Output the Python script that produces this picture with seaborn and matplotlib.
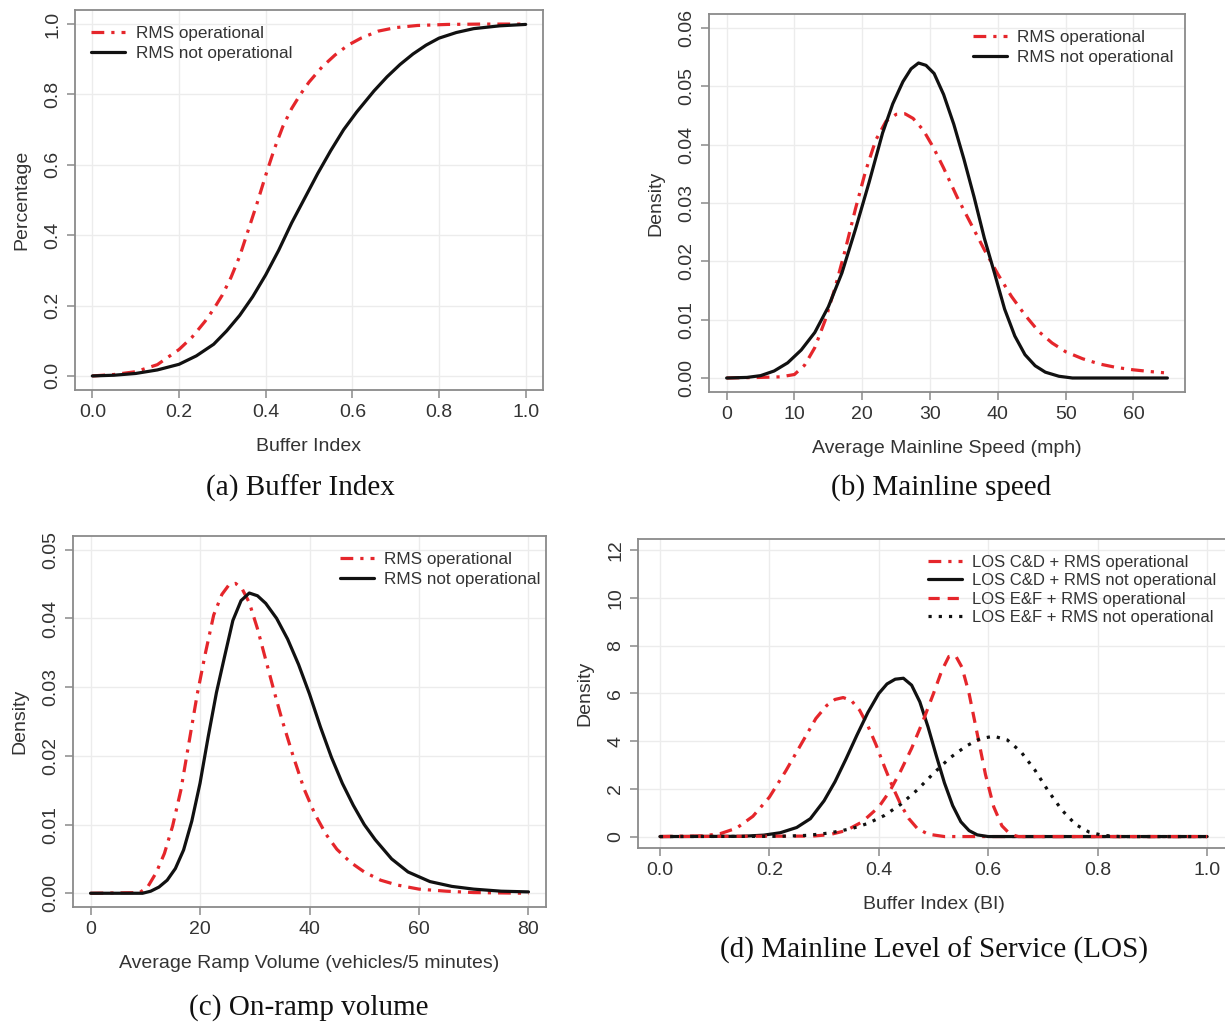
import matplotlib
matplotlib.use("Agg")
import matplotlib.pyplot as plt
import seaborn as sns

# ---------------- data ----------------
# (a) Buffer Index CDF
a_red_x = [0, 0.05, 0.10, 0.15, 0.20, 0.23, 0.26, 0.28, 0.30, 0.32, 0.34, 0.36, 0.38, 0.40,
           0.42, 0.44, 0.46, 0.48, 0.50, 0.53, 0.56, 0.59, 0.62, 0.66, 0.70, 0.75, 0.82,
           0.90, 1.0]
a_red_y = [0, 0.004, 0.012, 0.032, 0.075, 0.11, 0.155, 0.19, 0.23, 0.28, 0.34, 0.415, 0.49,
           0.57, 0.645, 0.71, 0.76, 0.80, 0.835, 0.878, 0.912, 0.94, 0.96, 0.98, 0.99,
           0.996, 0.999, 1.0, 1.0]
a_blk_x = [0, 0.05, 0.10, 0.15, 0.20, 0.24, 0.28, 0.31, 0.34, 0.37, 0.40, 0.43, 0.46, 0.49,
           0.52, 0.55, 0.58, 0.61, 0.65, 0.68, 0.71, 0.74, 0.77, 0.80, 0.84, 0.88, 0.94, 1.0]
a_blk_y = [0, 0.002, 0.007, 0.017, 0.033, 0.057, 0.09, 0.128, 0.172, 0.225, 0.287, 0.357,
           0.435, 0.505, 0.575, 0.64, 0.70, 0.75, 0.81, 0.85, 0.885, 0.915, 0.94, 0.96,
           0.976, 0.987, 0.995, 0.999]

# (b) Mainline speed densities
b_blk_x = [0, 3, 5, 7, 9, 11, 13, 15, 17, 19, 21, 23, 24.5, 26, 27.2, 28.3, 29.4, 30.6, 32,
           33.5, 35, 36.5, 38, 39.5, 41, 42.5, 44, 45.5, 47, 49, 51, 65]
b_blk_y = [0, 0.0001, 0.0004, 0.0012, 0.0026, 0.0048, 0.0078, 0.0122, 0.018, 0.0255, 0.0335,
           0.042, 0.047, 0.0508, 0.053, 0.054, 0.0536, 0.0522, 0.0486, 0.0435, 0.0375,
           0.031, 0.024, 0.018, 0.0118, 0.0072, 0.0040, 0.0021, 0.0010, 0.0003, 0.0, 0.0]
b_red_x = [0, 5, 8, 10, 11.5, 13, 14.5, 16, 17.5, 19, 20.5, 22, 23.5, 25, 26.3, 27.5, 29,
           30.5, 32, 34, 36, 38, 40, 42, 44, 46, 48, 50, 52.5, 55, 57.5, 60, 62.5, 64.5]
b_red_y = [0, 0.0001, 0.0002, 0.0006, 0.0022, 0.0052, 0.0098, 0.0155, 0.022, 0.029, 0.0355,
           0.0408, 0.0440, 0.0452, 0.0453, 0.0445, 0.0425, 0.0395, 0.036, 0.031, 0.0265,
           0.022, 0.0178, 0.0140, 0.0108, 0.0080, 0.0060, 0.0045, 0.0033, 0.0024, 0.0018,
           0.0014, 0.0011, 0.0009]

# (c) On-ramp volume densities
c_blk_x = [0, 9.5, 11, 12.5, 14, 15.5, 17, 18.5, 20, 21.5, 23, 24.5, 26, 27.5, 29, 30.5, 32,
           34, 36, 38, 40, 42, 44, 46, 48, 50, 52, 55, 58, 62, 66, 70, 75, 80]
c_blk_y = [0, 0, 0.0003, 0.0009, 0.0019, 0.0036, 0.0063, 0.0105, 0.0160, 0.0228, 0.0292,
           0.0345, 0.0397, 0.0426, 0.0437, 0.0433, 0.0422, 0.0400, 0.0370, 0.0333, 0.0290,
           0.0242, 0.0198, 0.0160, 0.0128, 0.0100, 0.0078, 0.0050, 0.0031, 0.0017, 0.0010,
           0.0006, 0.0003, 0.0002]
c_red_x = [0, 9, 10.5, 12, 13.5, 15, 16.5, 18, 19.5, 21, 22.5, 24, 25.3, 26.5, 27.7, 29,
           30.5, 32, 33.5, 35, 37, 39, 41, 43, 45, 47.5, 50, 53, 56, 60, 65, 70, 80]
c_red_y = [0, 0.0001, 0.0010, 0.0030, 0.0058, 0.0098, 0.0150, 0.0220, 0.0290, 0.0350,
           0.0405, 0.0435, 0.0449, 0.0451, 0.0443, 0.0423, 0.0385, 0.0340, 0.0295, 0.0252,
           0.0200, 0.0152, 0.0115, 0.0086, 0.0064, 0.0045, 0.0031, 0.0019, 0.0012, 0.0006,
           0.0003, 0.0001, 0.0]

# (d) Mainline LOS densities
d_cd_op_x = [0, 0.08, 0.11, 0.14, 0.17, 0.20, 0.23, 0.26, 0.285, 0.305, 0.32, 0.335, 0.35,
             0.365, 0.38, 0.395, 0.41, 0.425, 0.44, 0.455, 0.47, 0.49, 0.52, 1.0]
d_cd_op_y = [0, 0.03, 0.12, 0.35, 0.85, 1.65, 2.75, 3.95, 4.95, 5.5, 5.75, 5.83, 5.7, 5.3,
             4.65, 3.85, 2.95, 2.1, 1.35, 0.75, 0.35, 0.1, 0.0, 0]
d_cd_no_x = [0, 0.15, 0.19, 0.22, 0.25, 0.275, 0.30, 0.32, 0.34, 0.36, 0.38, 0.40, 0.415,
             0.43, 0.445, 0.46, 0.475, 0.49, 0.505, 0.52, 0.535, 0.55, 0.565, 0.58, 0.60, 1.0]
d_cd_no_y = [0, 0.01, 0.06, 0.16, 0.38, 0.75, 1.5, 2.3, 3.25, 4.25, 5.2, 6.0, 6.4, 6.6,
             6.64, 6.35, 5.65, 4.6, 3.4, 2.25, 1.3, 0.62, 0.25, 0.07, 0.0, 0]
d_ef_op_x = [0, 0.28, 0.31, 0.34, 0.37, 0.40, 0.42, 0.44, 0.46, 0.48, 0.50, 0.515, 0.528,
             0.54, 0.552, 0.565, 0.58, 0.595, 0.61, 0.625, 0.64, 0.655, 1.0]
d_ef_op_y = [0, 0.02, 0.08, 0.25, 0.62, 1.24, 1.9, 2.75, 3.7, 4.8, 6.0, 6.95, 7.55, 7.6,
             7.1, 6.0, 4.3, 2.6, 1.25, 0.45, 0.1, 0.0, 0]
d_ef_no_x = [0, 0.22, 0.27, 0.31, 0.35, 0.38, 0.41, 0.44, 0.47, 0.50, 0.53, 0.56, 0.585,
             0.61, 0.635, 0.66, 0.685, 0.71, 0.735, 0.76, 0.785, 0.81, 0.84, 1.0]
d_ef_no_y = [0, 0.01, 0.05, 0.15, 0.33, 0.55, 0.88, 1.35, 1.95, 2.65, 3.3, 3.8, 4.1, 4.21,
             4.05, 3.55, 2.8, 1.9, 1.1, 0.5, 0.18, 0.05, 0.0, 0]

a_xticks = [0.0, 0.2, 0.4, 0.6, 0.8, 1.0]
a_yticks = [0.0, 0.2, 0.4, 0.6, 0.8, 1.0]
b_xticks = [0, 10, 20, 30, 40, 50, 60]
b_yticks = [0.00, 0.01, 0.02, 0.03, 0.04, 0.05, 0.06]
c_xticks = [0, 20, 40, 60, 80]
c_yticks = [0.00, 0.01, 0.02, 0.03, 0.04, 0.05]
d_xticks = [0.0, 0.2, 0.4, 0.6, 0.8, 1.0]
d_yticks = [0, 2, 4, 6, 8, 10, 12]

# ---------------- style ----------------
sns.set_style("white")
plt.rcParams['font.family'] = ['Liberation Sans', 'DejaVu Sans']

W, H = 1225, 1025
fig = plt.figure(figsize=(W / 100, H / 100), dpi=100)

RED = "#E5262B"
BLK = "#111111"
DASHDOT = (0, (4, 2.2, 1, 2.2))
DASHED = (0, (3.5, 2.5))
DOTTED = (0, (1, 2.2))
LW = 2.3
FRAME = "#8a8a8a"
GRID = "#ececec"
TXT = "#333333"


def make_ax(l, r, t, b):
    return fig.add_axes([l / W, 1 - b / H, (r - l) / W, (b - t) / H])


def style(ax, xlim, ylim, xticks, yticks, xfmt, yfmt, xlabel, ylabel):
    ax.set_xlim(*xlim)
    ax.set_ylim(*ylim)
    ax.set_xticks(xticks)
    ax.set_yticks(yticks)
    ax.set_xticklabels([xfmt.format(v) for v in xticks])
    ax.set_yticklabels([yfmt.format(v) for v in yticks], rotation=90, va="center")
    ax.grid(True, color=GRID, linewidth=1.0)
    ax.set_axisbelow(True)
    for s in ax.spines.values():
        s.set_color(FRAME)
        s.set_linewidth(1.3)
    ax.tick_params(axis="both", direction="out", length=6, width=1.1, color=FRAME,
                   labelsize=14, labelcolor=TXT, pad=4, left=True, bottom=True)
    ax.set_xlabel(xlabel, fontsize=14, color=TXT, labelpad=12)
    ax.set_ylabel(ylabel, fontsize=14, color=TXT, labelpad=10)


def rng(lo, hi):
    d = (hi - lo) * 0.04
    return (lo - d, hi + d)


def legend(ax, anchor, fs=12.3, spacing=0.3):
    ax.legend(loc="upper left", bbox_to_anchor=anchor, frameon=False, fontsize=fs,
              handlelength=2.0, handletextpad=0.6, borderaxespad=0, labelspacing=spacing,
              labelcolor=TXT)


# (a)
ax = make_ax(75, 543, 10, 390)
sns.lineplot(x=a_red_x, y=a_red_y, ax=ax, color=RED, linestyle=DASHDOT, linewidth=LW,
             label="RMS operational", sort=False)
sns.lineplot(x=a_blk_x, y=a_blk_y, ax=ax, color=BLK, linewidth=LW,
             label="RMS not operational", sort=False)
style(ax, rng(0, 1), rng(0, 1), a_xticks, a_yticks, "{:.1f}", "{:.1f}",
      "Buffer Index", "Percentage")
legend(ax, (0.02, 0.975))

# (b)
ax = make_ax(709, 1185, 14, 392)
sns.lineplot(x=b_red_x, y=b_red_y, ax=ax, color=RED, linestyle=DASHDOT, linewidth=LW,
             label="RMS operational", sort=False)
sns.lineplot(x=b_blk_x, y=b_blk_y, ax=ax, color=BLK, linewidth=LW,
             label="RMS not operational", sort=False)
style(ax, rng(0, 65), rng(0, 0.06), b_xticks, b_yticks, "{:d}", "{:.2f}",
      "Average Mainline Speed (mph)", "Density")
legend(ax, (0.54, 0.975))

# (c)
ax = make_ax(73, 546, 536, 907)
sns.lineplot(x=c_red_x, y=c_red_y, ax=ax, color=RED, linestyle=DASHDOT, linewidth=LW,
             label="RMS operational", sort=False)
sns.lineplot(x=c_blk_x, y=c_blk_y, ax=ax, color=BLK, linewidth=LW,
             label="RMS not operational", sort=False)
style(ax, rng(0, 80), rng(0, 0.05), c_xticks, c_yticks, "{:d}", "{:.2f}",
      "Average Ramp Volume (vehicles/5 minutes)", "Density")
legend(ax, (0.55, 0.975))

# (d)
ax = make_ax(638, 1229, 539, 848)
sns.lineplot(x=d_cd_op_x, y=d_cd_op_y, ax=ax, color=RED, linestyle=DASHDOT, linewidth=LW,
             label="LOS C&D + RMS operational", sort=False)
sns.lineplot(x=d_cd_no_x, y=d_cd_no_y, ax=ax, color=BLK, linewidth=LW,
             label="LOS C&D + RMS not operational", sort=False)
sns.lineplot(x=d_ef_op_x, y=d_ef_op_y, ax=ax, color=RED, linestyle=DASHED, linewidth=LW,
             label="LOS E&F + RMS operational", sort=False)
sns.lineplot(x=d_ef_no_x, y=d_ef_no_y, ax=ax, color=BLK, linestyle=DOTTED, linewidth=LW,
             label="LOS E&F + RMS not operational", sort=False)
style(ax, rng(0, 1), rng(0, 12), d_xticks, d_yticks, "{:.1f}", "{:d}",
      "Buffer Index (BI)", "Density")
legend(ax, (0.48, 0.97), fs=12, spacing=0.2)

# captions
cap = dict(fontsize=21, family=["Liberation Serif", "DejaVu Serif"], ha="center",
           va="center", color="#111111")
fig.text(300 / W, 1 - 488 / H, "(a) Buffer Index", **cap)
fig.text(941 / W, 1 - 488 / H, "(b) Mainline speed", **cap)
fig.text(309 / W, 1 - 1008 / H, "(c) On-ramp volume", **cap)
fig.text(934 / W, 1 - 950 / H, "(d) Mainline Level of Service (LOS)", **cap)

fig.savefig("out.png", dpi=100, facecolor="white")
